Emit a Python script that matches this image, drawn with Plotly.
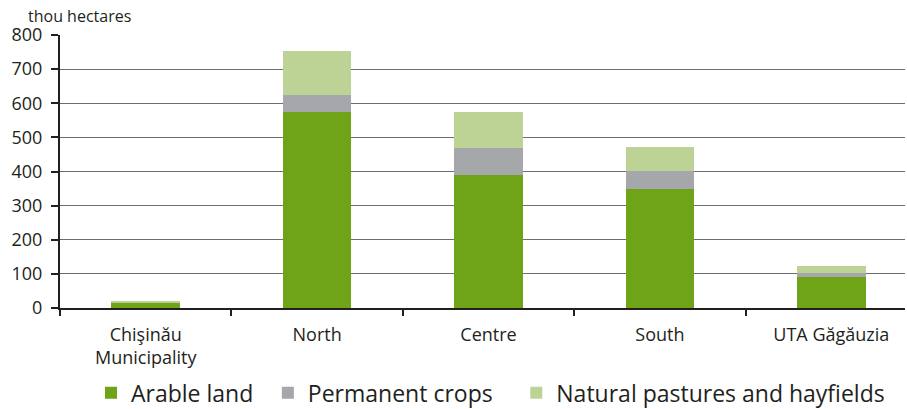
import plotly.graph_objects as go

categories = ["Chişinău<br>Municipality", "North", "Centre", "South", "UTA Găgăuzia"]
arable = [15, 574, 390, 349, 91]
permanent = [1, 50, 79, 52, 12]
pastures = [4, 129, 105, 71, 20]
y_ticks = [0, 100, 200, 300, 400, 500, 600, 700, 800]

FONT = "Open Sans, Noto Sans, DejaVu Sans, sans-serif"
TXT = "#231f20"

fig = go.Figure()
fig.add_bar(x=categories, y=arable, name="Arable land", marker_color="#6fa318",
            marker_line_width=0, legend="legend")
fig.add_bar(x=categories, y=permanent, name="Permanent crops", marker_color="#a6a7ab",
            marker_line_width=0, legend="legend2")
fig.add_bar(x=categories, y=pastures, name="Natural pastures and hayfields",
            marker_color="#bdd395", marker_line_width=0, legend="legend3")

def leg(x):
    return dict(orientation="h", x=x, xanchor="left", y=-0.232, yanchor="top",
                font=dict(size=23, family=FONT, color=TXT),
                itemwidth=30, bgcolor="rgba(0,0,0,0)")

fig.update_layout(
    barmode="stack",
    bargap=0.6,
    width=907, height=409,
    margin=dict(l=60, r=2, t=35, b=101, autoexpand=False),
    paper_bgcolor="white", plot_bgcolor="white",
    font=dict(family=FONT, color=TXT, size=18),
    showlegend=True,
    legend=leg(0.0367),
    legend2=leg(0.246),
    legend3=leg(0.540),
    xaxis=dict(
        type="category", range=[-0.5, 4.43], automargin=False,
        showline=True, linecolor="#231f20", linewidth=2,
        ticks="outside", tickson="boundaries", ticklen=6, tickcolor="#231f20",
        tickwidth=1.5, showgrid=False, ticklabelstandoff=9,
        tickfont=dict(size=18, family=FONT, color=TXT),
    ),
    yaxis=dict(
        range=[0, 800], tickvals=y_ticks, ticktext=[str(v) for v in y_ticks],
        automargin=False, ticklabelstandoff=5,
        showline=True, linecolor="#231f20", linewidth=2,
        ticks="outside", ticklen=7, tickcolor="#231f20", tickwidth=1.5,
        showgrid=True, gridcolor="#6d6d6d", gridwidth=1,
        zeroline=False,
        tickfont=dict(size=18, family=FONT, color=TXT),
    ),
    annotations=[dict(text="thou hectares", xref="paper", yref="paper",
                      x=0, y=1, xanchor="left", yanchor="bottom", yshift=6, xshift=-34,
                      showarrow=False, font=dict(size=16, family=FONT, color=TXT))],
)

fig.write_html("out.html", config={"displayModeBar": False},
               post_script="document.body.style.margin='0px';")
